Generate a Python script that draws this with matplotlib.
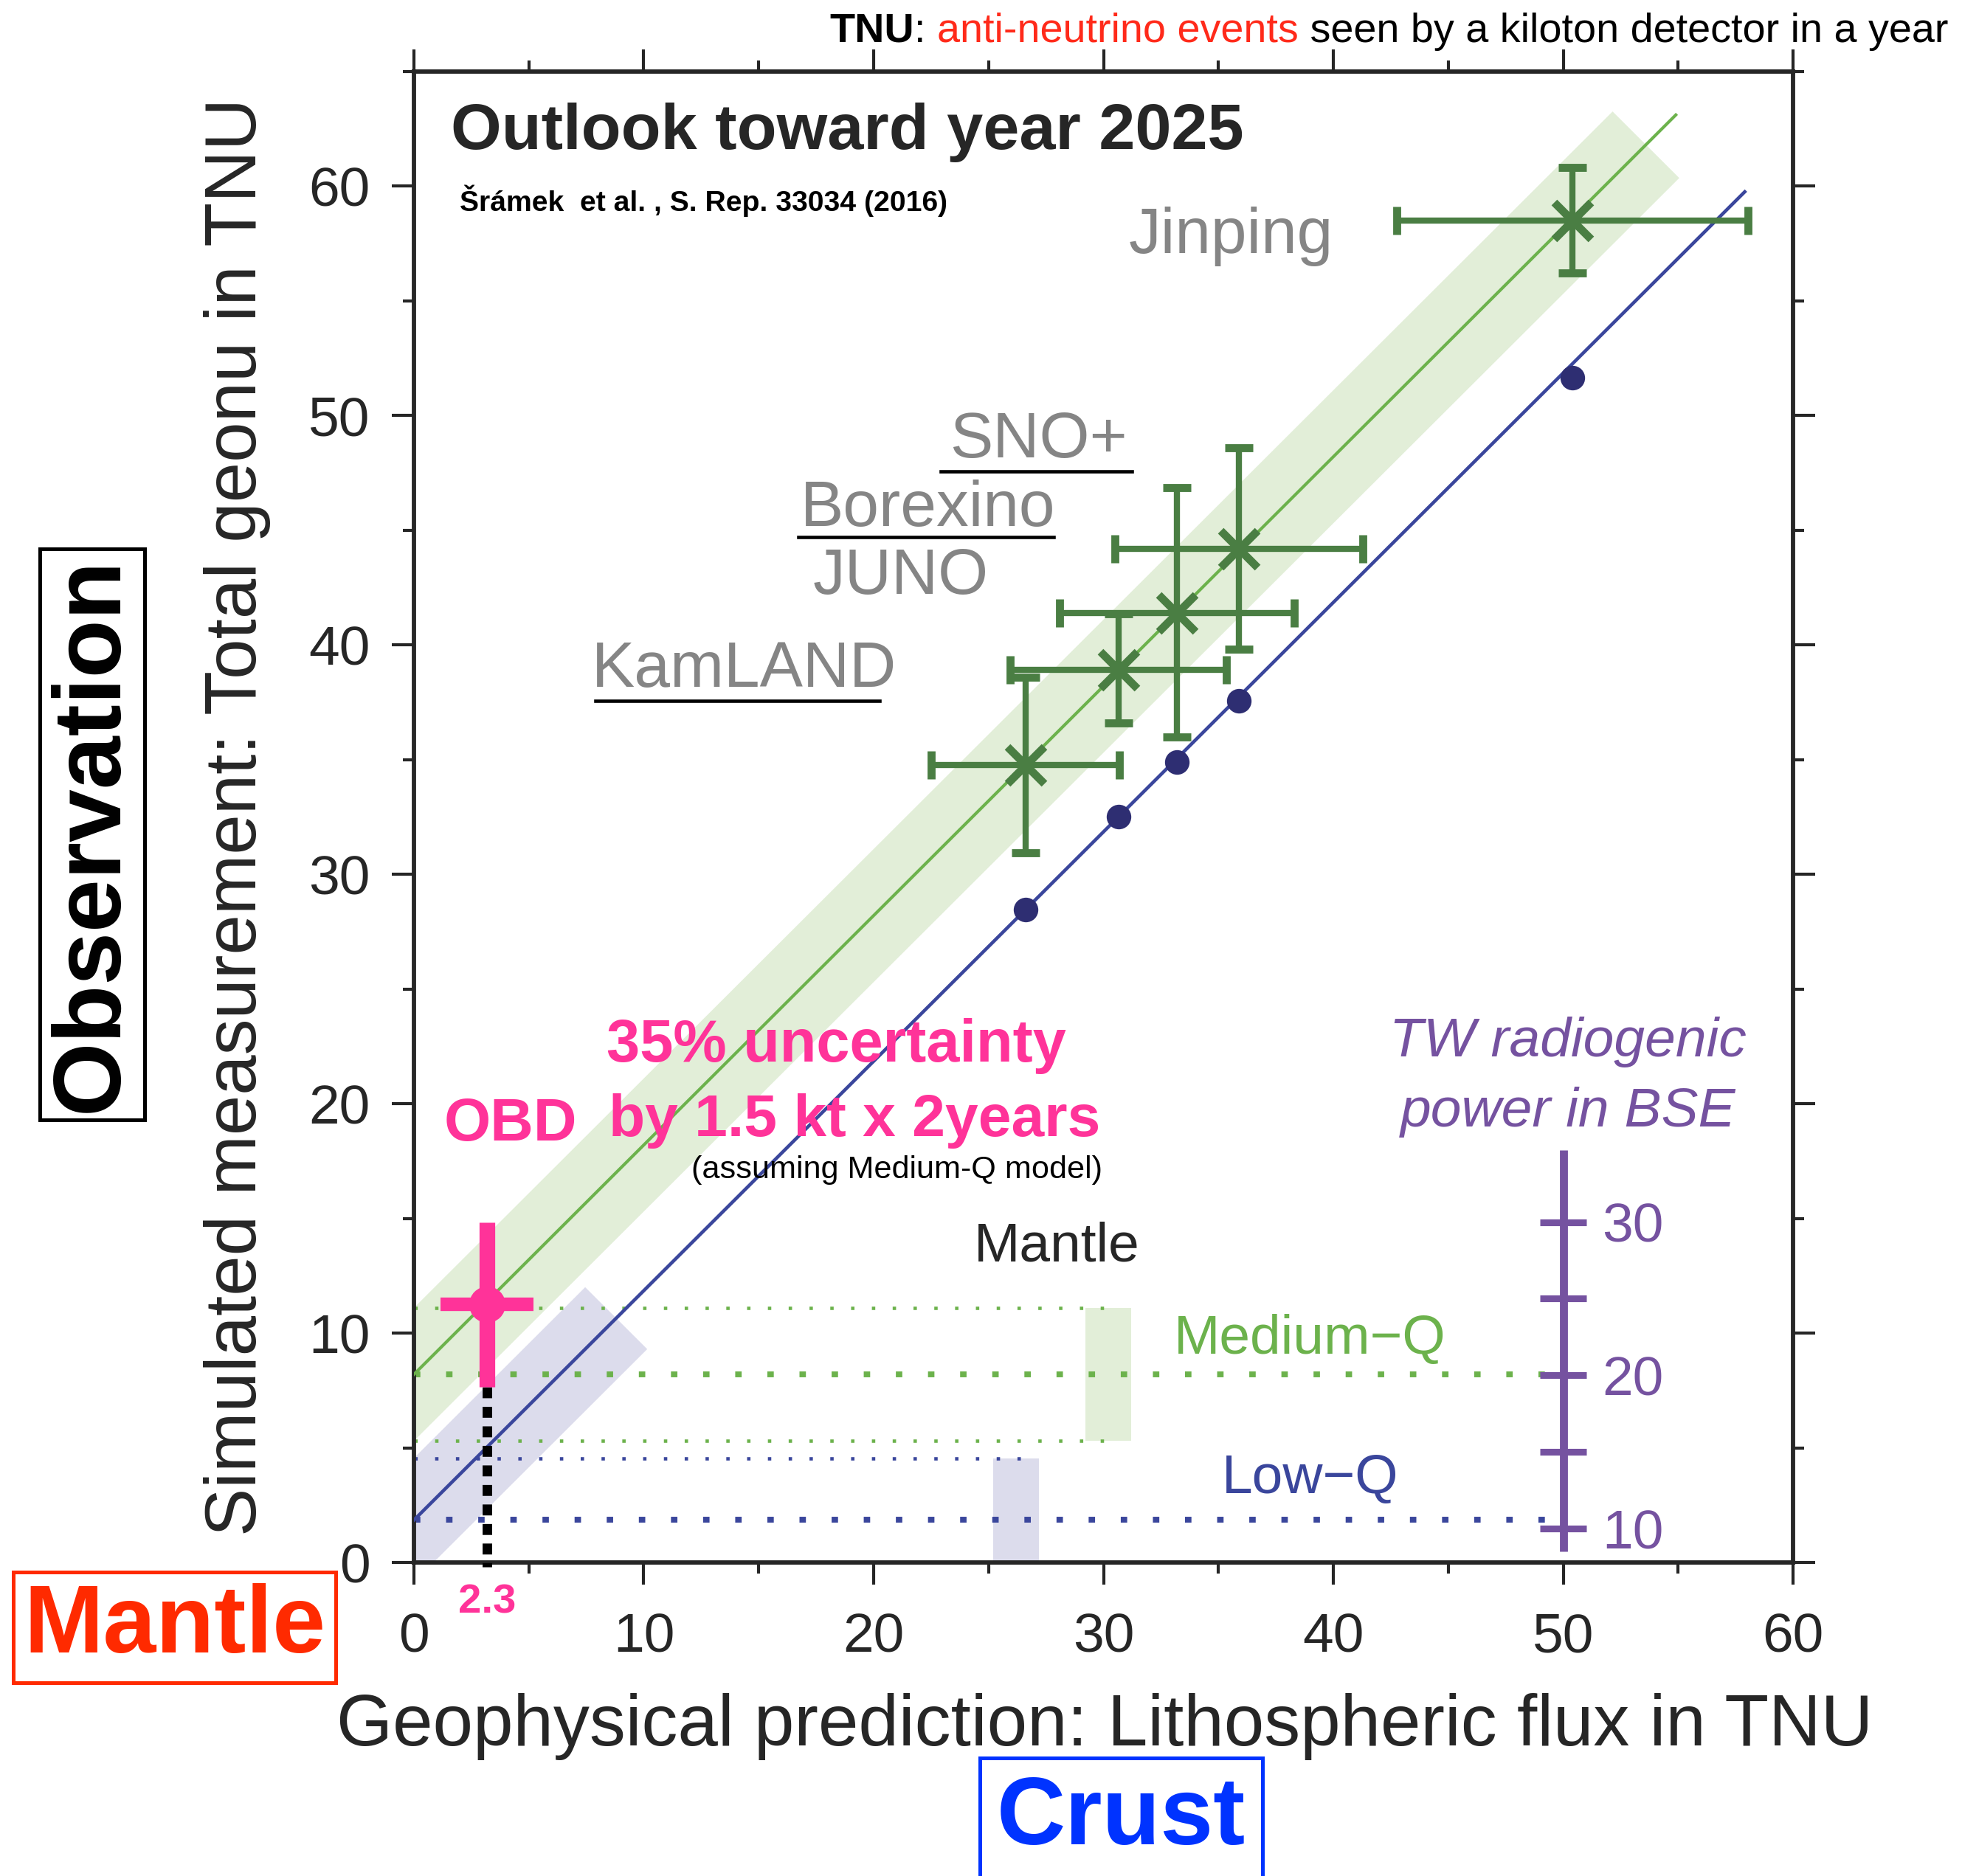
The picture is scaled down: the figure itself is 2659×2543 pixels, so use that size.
import matplotlib.pyplot as plt
import numpy as np
from matplotlib.patches import Polygon, Rectangle

plt.rcParams['font.family'] = ['Liberation Sans', 'DejaVu Sans']

# detectors: geophysical (lithospheric) prediction vs simulated total measurement
detectors = ['KamLAND', 'Borexino', 'JUNO', 'SNO+', 'Jinping']
litho = [26.6, 30.65, 33.2, 35.9, 50.4]
litho_err = [4.1, 4.7, 5.1, 5.4, 7.65]
total_medq = [34.75, 38.9, 41.4, 44.2, 58.5]
total_medq_err_lo = [3.8, 2.3, 5.4, 4.4, 2.3]
total_medq_err_hi = [3.85, 2.45, 5.45, 4.4, 2.3]
total_lowq = [28.45, 32.5, 34.9, 37.55, 51.65]

# mantle contribution (TNU) of the two BSE models
mantle_medq, mantle_medq_err = 8.2, 2.9
mantle_lowq, mantle_lowq_err = 1.85, 2.7
medq_line_end = 54.9
lowq_line_end = 57.9
medq_band_end = 53.6
lowq_band_end = 8.8

# ocean bottom detector
obd_litho, obd_litho_err = 3.17, 2.02
obd_total, obd_total_err_lo, obd_total_err_hi = 11.25, 3.61, 3.58

# TW radiogenic power scale
tw_ticks = [10, 15, 20, 25, 30]
tw_labels = [10, 20, 30]
tw_range = [8.5, 34.7]

GREEN = '#6cb24c'
DKGREEN = '#4a7e43'
NAVY = '#3a469c'
DOT = '#2e2e72'
PINK = '#ff3399'
PURPLE = '#7552a0'
GRAY = '#858585'
INK = '#262626'


def tw_to_y(tw):
    return 1.48 + (np.asarray(tw) - 10) * 3.34 / 5


def band(ax, offset, half, x0, x1, color):
    d = half / 2
    pts = [(x0 - d, x0 + offset + d), (x0 + d, x0 + offset - d),
           (x1 + d, x1 + offset - d), (x1 - d, x1 + offset + d)]
    ax.add_patch(Polygon(pts, closed=True, facecolor=color, edgecolor='none', zorder=1))


fig = plt.figure(figsize=(2659 / 300, 2543 / 300), dpi=300)
ax = fig.add_axes([0.21098, 0.16712, 0.70290, 0.79485])
ax.set_xlim(0, 60)
ax.set_ylim(0, 65)

# model bands and lines
band(ax, mantle_medq, mantle_medq_err, -6, medq_band_end, '#e2eed8')
band(ax, mantle_lowq, mantle_lowq_err, -6, lowq_band_end, '#dcdcec')
xm = np.array([0, medq_line_end])
ax.plot(xm, xm + mantle_medq, color=GREEN, lw=1.0, zorder=3)
xl = np.array([0, lowq_line_end])
ax.plot(xl, xl + mantle_lowq, color=NAVY, lw=1.1, zorder=3)

# mantle boxes
ax.add_patch(Rectangle((29.2, mantle_medq - mantle_medq_err), 2.0, 2 * mantle_medq_err,
                       facecolor='#e2eed8', edgecolor='none', zorder=1))
ax.add_patch(Rectangle((25.2, mantle_lowq - mantle_lowq_err), 2.0, 2 * mantle_lowq_err,
                       facecolor='#dcdcec', edgecolor='none', zorder=1))

thin = (0, (1, 5.15))
thick = (0, (1.1, 4.4))
for yv in [mantle_medq - mantle_medq_err, mantle_medq + mantle_medq_err]:
    ax.plot([0, 30.7], [yv, yv], color=GREEN, lw=1.1, ls=thin, zorder=2, dash_capstyle='butt')
ax.plot([0, 49.2], [mantle_medq, mantle_medq], color=GREEN, lw=1.9, ls=thick, zorder=2, dash_capstyle='butt')
ax.plot([0, 27.0], [mantle_lowq + mantle_lowq_err] * 2, color=NAVY, lw=1.1, ls=thin, zorder=2, dash_capstyle='butt')
ax.plot([0, 49.2], [mantle_lowq, mantle_lowq], color=NAVY, lw=1.9, ls=thick, zorder=2, dash_capstyle='butt')

# detectors
ax.errorbar(litho, total_medq, xerr=litho_err, yerr=[total_medq_err_lo, total_medq_err_hi],
            fmt='x', color=DKGREEN, ms=12, mew=2.6, elinewidth=2.0, capsize=4.6, capthick=1.9,
            zorder=5)
ax.plot(litho, total_lowq, 'o', color=DOT, ms=8.0, mec='none', zorder=5)

# OBD
ax.plot([obd_litho, obd_litho], [obd_total - obd_total_err_lo, -0.2], color='black', lw=3.1,
        ls=(0, (1.15, 0.9)), dash_capstyle='butt', clip_on=False, zorder=4)
ax.plot([obd_litho, obd_litho], [obd_total - obd_total_err_lo, obd_total + obd_total_err_hi],
        color=PINK, lw=5.1, solid_capstyle='butt', zorder=6)
ax.plot([obd_litho - obd_litho_err, obd_litho + obd_litho_err], [obd_total, obd_total],
        color=PINK, lw=4.4, solid_capstyle='butt', zorder=6)
ax.plot([obd_litho], [obd_total], 'o', color=PINK, ms=11.8, mec='none', zorder=7)
ax.text(obd_litho, -1.75, '2.3', color=PINK, fontsize=13.5, fontweight='bold',
        ha='center', va='center', clip_on=False)

# TW power scale
ax.plot([50.0, 50.0], tw_to_y(tw_range), color=PURPLE, lw=2.6, solid_capstyle='butt', zorder=4)
ax.hlines(tw_to_y(tw_ticks), 49.0, 51.0, color=PURPLE, lw=2.2, zorder=4)
for v in tw_labels:
    ax.text(51.7, tw_to_y(v) - 0.25, str(v), color=PURPLE, fontsize=18, ha='left', va='center')
ax.text(50.2, 22.06, 'TW radiogenic', color=PURPLE, fontsize=18, style='italic',
        ha='center', va='baseline')
ax.text(50.2, 19.02, 'power in BSE', color=PURPLE, fontsize=18, style='italic',
        ha='center', va='baseline')

# model labels
ax.text(27.98, 13.75, 'Mantle', color=INK, fontsize=18, ha='center', va='center')
ax.text(38.98, 9.74, 'Medium\u2212Q', color=GREEN, fontsize=18, ha='center', va='center')
ax.text(38.98, 3.64, 'Low\u2212Q', color=NAVY, fontsize=18, ha='center', va='center')

# detector names
ax.text(35.55, 57.8, 'Jinping', color=GRAY, fontsize=21, ha='center', va='center')
ax.text(27.16, 48.88, 'SNO+', color=GRAY, fontsize=21, ha='center', va='center')
ax.text(22.37, 45.89, 'Borexino', color=GRAY, fontsize=21, ha='center', va='center')
ax.text(21.18, 42.94, 'JUNO', color=GRAY, fontsize=21, ha='center', va='center')
ax.text(14.37, 38.91, 'KamLAND', color=GRAY, fontsize=21, ha='center', va='center')
for x0, x1, yv in [(22.92, 31.25, 47.57), (16.71, 27.82, 44.69), (7.89, 20.25, 37.55)]:
    ax.plot([x0, x1], [yv, yv], color='black', lw=1.1, zorder=3)

# headline texts
ax.text(1.6, 62.35, 'Outlook toward year 2025', color=INK, fontsize=21.2, fontweight='bold',
        ha='left', va='center')
ax.text(2.0, 59.35, '\u0160r\u00e1mek  et al. , S. Rep. 33034 (2016)', color='black',
        fontsize=9.4, fontweight='bold', ha='left', va='center')
ax.text(8.38, 22.5, '35% uncertainty', color=PINK, fontsize=19.5, fontweight='bold',
        ha='left', va='center')
ax.text(8.49, 19.24, 'by 1.5 kt x 2years', color=PINK, fontsize=19.3, fontweight='bold',
        ha='left', va='center')
ax.text(1.31, 19.07, 'OBD', color=PINK, fontsize=19.5, fontweight='bold', ha='left', va='center')
ax.text(12.08, 17.11, '(assuming Medium-Q model)', color='black', fontsize=10.4,
        ha='left', va='center')

# axes styling
for s in ax.spines.values():
    s.set_linewidth(1.4)
    s.set_color(INK)
ax.set_xticks(np.arange(0, 61, 10))
ax.set_yticks(np.arange(0, 61, 10))
ax.set_xticks(np.arange(0, 61, 5), minor=True)
ax.set_yticks(np.arange(0, 66, 5), minor=True)
ax.tick_params(which='both', direction='out', top=True, right=True, labeltop=False,
               labelright=False, color=INK, labelcolor=INK, width=1.0, labelsize=18)
ax.tick_params(which='major', length=7.2)
ax.tick_params(which='minor', length=3.6)
ax.tick_params(axis='x', which='major', pad=9)
ax.tick_params(axis='y', which='major', pad=7)

ax.text(0.5008, -0.11, 'Geophysical prediction: Lithospheric flux in TNU', transform=ax.transAxes,
        fontsize=23.5, color=INK, ha='center', va='center')
ax.text(-0.128, 0.5, 'Simulated measurement: Total geonu in TNU', transform=ax.transAxes,
        fontsize=23.5, color=INK, ha='center', va='center', rotation=90)

# boxed axis meanings
fig.text(0.0469, 0.5553, 'Observation', fontsize=31, fontweight='bold', color='black',
         rotation=90, ha='center', va='center',
         bbox=dict(boxstyle='square,pad=0.08', facecolor='white', edgecolor='black', lw=1.2))
fig.text(0.089, 0.1325, 'Mantle', fontsize=31, fontweight='bold', color='#ff2a00',
         ha='center', va='center',
         bbox=dict(boxstyle='square,pad=0.11', facecolor='white', edgecolor='#ff2a00', lw=1.2))
fig.text(0.5715, 0.0299, 'Crust', fontsize=31, fontweight='bold', color='#0033ff',
         ha='center', va='center',
         bbox=dict(boxstyle='square,pad=0.18', facecolor='white', edgecolor='#0033ff', lw=1.2))

# top note with mixed colours, built right to left
t = fig.text(0.9929, 0.9776, ' seen by a kiloton detector in a year', fontsize=13.4,
             color='black', ha='right', va='baseline')
t = ax.annotate('anti-neutrino events', xy=(0, 0), xycoords=t, fontsize=13.4,
                color='#ff2a1a', ha='right', va='bottom', annotation_clip=False)
t = ax.annotate(': ', xy=(0, 0), xycoords=t, fontsize=13.4, color='black',
                ha='right', va='bottom', annotation_clip=False)
t = ax.annotate('TNU', xy=(0, 0), xycoords=t, fontsize=13.4, color='black',
                fontweight='bold', ha='right', va='bottom', annotation_clip=False)

fig.savefig('out.png', dpi=300)
